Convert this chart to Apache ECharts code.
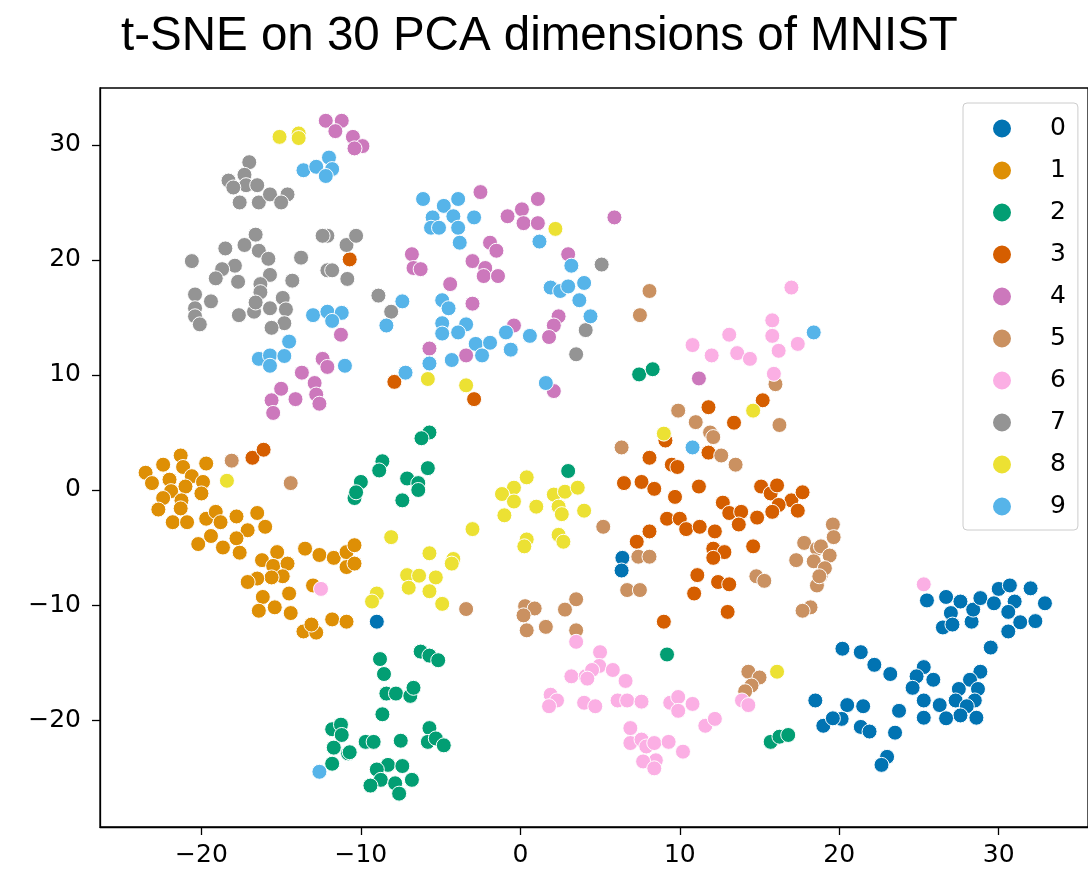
<!DOCTYPE html>
<html>
<head>
<meta charset="utf-8">
<title>t-SNE on 30 PCA dimensions of MNIST</title>
<script src="https://cdn.jsdelivr.net/npm/echarts@6/dist/echarts.min.js"></script>
<style>
  html, body { margin: 0; padding: 0; background: #fff; }
  #chart { width: 1088px; height: 874px; }
</style>
</head>
<body>
<div id="chart"></div>
<script>
// Embedded 2-D coordinates, one array per digit class
const digit0 = [[-9.0,-11.45],[6.4,-5.9],[6.35,-7.0],[18.5,-18.3],[19.0,-20.5],[25.5,-9.6],[26.7,-9.3],[27.6,-9.7],[27.0,-10.7],[26.5,-11.95],[27.1,-11.7],[28.3,-11.45],[28.4,-10.4],[28.85,-9.4],[29.7,-9.85],[30.0,-8.6],[30.7,-8.3],[31.0,-9.7],[30.6,-10.6],[31.35,-11.5],[30.6,-12.3],[32.0,-8.55],[32.9,-9.85],[32.3,-11.4],[29.5,-13.7],[20.2,-13.8],[21.35,-14.1],[22.2,-15.2],[23.2,-16.0],[25.3,-15.4],[24.85,-16.2],[25.9,-16.5],[24.6,-17.2],[25.3,-18.3],[26.3,-18.7],[28.85,-15.8],[28.2,-16.5],[27.5,-17.3],[28.7,-17.3],[27.3,-18.3],[28.5,-18.3],[28.0,-18.8],[27.6,-19.6],[28.6,-19.8],[26.7,-19.85],[25.3,-19.8],[23.75,-19.2],[23.5,-21.1],[23.0,-23.2],[22.65,-23.9],[20.5,-18.7],[21.5,-18.8],[20.15,-19.9],[19.6,-19.85],[21.35,-20.6],[21.9,-21.0]];
const digit1 = [[-21.3,3.0],[-21.15,2.0],[-22.4,2.2],[-23.5,1.5],[-19.7,2.3],[-22.0,0.9],[-23.1,0.6],[-20.6,1.2],[-19.9,0.7],[-21.0,0.3],[-21.9,-0.1],[-20.0,-0.3],[-22.4,-0.7],[-21.25,-0.9],[-22.7,-1.7],[-21.3,-1.6],[-21.8,-2.8],[-20.9,-2.8],[-19.7,-2.5],[-19.1,-1.9],[-18.8,-2.8],[-17.8,-2.3],[-16.5,-2.0],[-16.0,-3.2],[-17.1,-3.5],[-17.8,-4.2],[-19.4,-4.0],[-20.2,-4.7],[-18.65,-5.0],[-17.6,-5.45],[-13.5,-5.1],[-12.6,-5.65],[-11.7,-5.9],[-10.9,-5.4],[-15.25,-5.4],[-16.2,-6.1],[-15.5,-6.6],[-14.6,-6.4],[-14.9,-7.5],[-15.6,-7.6],[-16.5,-7.7],[-17.1,-8.0],[-13.0,-8.3],[-10.9,-6.7],[-16.15,-9.3],[-14.5,-9.0],[-15.4,-10.2],[-16.4,-10.5],[-14.4,-10.7],[-13.6,-12.3],[-12.8,-12.4],[-13.1,-11.7],[-11.8,-11.25],[-10.9,-11.45],[-10.4,-4.8],[-10.4,-6.4]];
const digit2 = [[-10.4,-0.7],[-10.0,0.7],[-10.3,-0.2],[-8.65,2.5],[-8.85,1.7],[-5.8,1.9],[-7.1,1.0],[-6.4,0.6],[-6.4,0.0],[-7.4,-0.9],[-5.7,5.0],[-6.2,4.5],[3.0,1.65],[7.45,10.05],[8.3,10.5],[9.2,-14.3],[15.7,-21.9],[16.25,-21.45],[16.8,-21.3],[-6.25,-14.05],[-5.7,-14.4],[-5.15,-14.8],[-8.8,-14.7],[-8.55,-16.0],[-8.4,-17.7],[-7.8,-17.7],[-6.9,-17.9],[-6.7,-17.2],[-8.65,-19.5],[-11.8,-20.8],[-11.25,-20.4],[-11.2,-21.3],[-11.7,-22.4],[-10.8,-22.9],[-11.8,-23.8],[-10.7,-22.8],[-9.7,-21.9],[-9.2,-21.9],[-7.5,-21.8],[-5.7,-20.7],[-5.8,-21.9],[-5.3,-21.6],[-4.8,-22.2],[-8.3,-23.9],[-9.0,-24.3],[-7.4,-24.0],[-8.75,-25.2],[-9.4,-25.7],[-7.85,-25.5],[-6.8,-25.2],[-7.6,-26.4]];
const digit3 = [[-10.7,20.05],[-16.8,2.8],[-16.1,3.5],[-7.9,9.4],[-2.9,7.9],[15.2,7.8],[11.8,7.2],[13.4,5.85],[11.8,3.25],[9.1,4.3],[8.1,2.8],[9.5,2.2],[9.85,2.0],[6.5,0.6],[7.6,0.7],[8.4,0.1],[9.7,-0.6],[11.2,0.3],[12.7,-1.1],[13.1,-2.0],[13.85,-1.9],[13.7,-3.0],[14.85,-2.4],[15.1,0.3],[15.7,-0.3],[16.1,0.4],[17.0,-0.9],[17.7,-0.2],[16.2,-1.3],[15.8,-1.9],[17.4,-1.8],[9.2,-2.5],[10.0,-2.5],[10.4,-3.4],[11.25,-3.2],[12.2,-3.6],[8.1,-3.6],[7.3,-4.5],[12.1,-5.1],[12.8,-5.4],[12.1,-5.9],[14.6,-4.9],[11.1,-7.4],[12.4,-8.0],[13.1,-8.2],[10.9,-9.0],[13.0,-10.6],[9.0,-11.45]];
const digit4 = [[-12.2,32.1],[-11.2,32.1],[-11.6,31.2],[-10.5,30.7],[-9.9,29.9],[-10.4,29.7],[-2.5,25.9],[-0.8,23.8],[0.1,24.4],[1.1,25.3],[0.2,23.2],[1.1,23.2],[-1.9,21.5],[-1.5,20.8],[-3.0,19.9],[-2.2,19.3],[-2.3,18.6],[-1.4,18.6],[-6.8,20.5],[-6.7,19.3],[-6.25,19.2],[-4.4,17.9],[-3.0,16.2],[3.0,20.5],[-0.4,14.3],[2.4,15.1],[2.1,14.3],[5.9,23.7],[-11.25,13.5],[-12.4,11.4],[-12.1,10.7],[-13.7,10.2],[-12.9,9.3],[-12.8,8.3],[-12.6,7.5],[-15.0,8.8],[-14.1,7.9],[-15.6,7.8],[-15.5,6.7],[-5.7,12.3],[-3.4,11.7],[1.8,13.3],[2.1,8.6],[11.2,9.7]];
const digit5 = [[8.1,17.3],[7.5,15.2],[16.0,9.2],[9.9,6.9],[11.0,5.9],[11.9,5.0],[12.1,4.6],[12.6,3.0],[13.5,2.2],[16.25,5.65],[6.35,3.7],[5.2,-3.2],[7.4,-5.8],[8.1,-5.8],[6.7,-8.7],[7.5,-8.7],[17.8,-4.6],[18.6,-5.1],[17.3,-6.1],[18.4,-6.2],[18.85,-7.4],[14.8,-7.5],[15.3,-7.9],[18.6,-8.3],[18.2,-10.2],[17.7,-10.5],[14.3,-15.8],[15.0,-16.3],[14.5,-17.0],[14.1,-17.5],[19.6,-3.0],[19.65,-4.1],[18.85,-4.9],[19.4,-5.7],[19.1,-6.8],[18.75,-7.5],[-18.1,2.55],[-14.4,0.6],[-3.4,-10.35],[0.3,-10.1],[0.9,-10.3],[0.2,-10.9],[0.4,-12.2],[1.6,-11.9],[2.8,-10.4],[3.5,-9.5],[3.5,-12.2]];
const digit6 = [[-12.5,-8.6],[17.0,17.6],[15.8,14.75],[15.8,13.4],[13.1,13.5],[10.8,12.6],[12.0,11.7],[13.6,11.9],[14.4,11.4],[16.2,12.1],[17.4,12.7],[15.9,10.1],[25.3,-8.2],[3.5,-13.2],[3.2,-16.2],[4.1,-16.2],[1.9,-17.8],[2.3,-18.3],[1.8,-18.8],[4.0,-18.5],[5.0,-14.1],[4.95,-15.3],[4.5,-15.65],[4.2,-16.4],[5.8,-15.65],[6.6,-16.6],[4.7,-18.8],[6.1,-18.3],[6.7,-18.3],[7.6,-18.4],[9.4,-18.5],[9.9,-18.0],[10.8,-18.6],[9.9,-19.2],[11.6,-20.5],[12.2,-19.9],[13.9,-18.3],[14.3,-18.7],[6.9,-20.7],[6.9,-22.0],[7.6,-21.7],[7.9,-22.3],[8.4,-22.0],[9.3,-21.9],[10.2,-22.75],[8.5,-23.5],[7.7,-23.6],[8.4,-24.2]];
const digit7 = [[-17.0,28.5],[-18.3,26.9],[-17.3,27.4],[-17.2,26.5],[-16.5,26.5],[-18.0,26.3],[-17.6,25.0],[-16.4,25.0],[-15.7,25.7],[-14.6,25.7],[-15.0,25.0],[-16.6,22.2],[-17.3,21.3],[-16.4,20.8],[-15.8,20.1],[-18.5,21.0],[-17.9,19.5],[-18.7,19.2],[-19.1,18.4],[-17.7,18.1],[-20.6,19.9],[-15.7,18.7],[-16.3,17.9],[-16.3,17.2],[-14.3,18.2],[-13.75,20.2],[-20.4,17.0],[-19.4,16.4],[-20.4,15.8],[-20.4,15.1],[-20.1,14.4],[-17.65,15.2],[-16.7,15.5],[-16.6,16.3],[-15.7,15.8],[-14.9,16.7],[-14.7,15.7],[-14.8,14.5],[-15.6,14.1],[-12.1,22.1],[-12.4,22.1],[-12.1,19.1],[-11.8,19.1],[-10.9,21.3],[-10.3,22.1],[-10.85,18.35],[-8.9,16.9],[-8.1,15.5],[5.1,19.6],[3.5,11.8],[4.1,13.9]];
const digit8 = [[-15.1,30.7],[-13.9,31.0],[-13.9,30.6],[2.2,22.7],[-18.4,0.8],[-5.8,9.65],[-3.4,9.1],[9.0,4.9],[14.6,6.9],[0.4,1.1],[-0.4,0.2],[-1.15,-0.35],[-0.4,-1.0],[-1.0,-2.2],[1.0,-1.45],[2.1,-0.4],[2.8,-0.15],[3.6,0.2],[2.4,-1.45],[2.6,-2.1],[4.0,-1.8],[0.4,-4.3],[0.25,-4.9],[2.4,-3.9],[2.7,-4.5],[-3.0,-3.4],[-8.1,-4.1],[-5.7,-5.5],[-4.2,-6.0],[-4.3,-6.4],[-7.1,-7.4],[-6.35,-7.45],[-5.3,-7.6],[-9.0,-9.0],[-9.3,-9.7],[-7.0,-8.5],[-5.7,-8.8],[-4.9,-9.9],[16.1,-15.8]];
const digit9 = [[-13.6,27.8],[-12.8,28.1],[-12.0,28.9],[-11.8,27.9],[-12.2,27.3],[-13.0,15.2],[-12.1,15.5],[-11.2,15.4],[-11.8,14.7],[-6.1,25.3],[-4.8,24.7],[-3.9,25.3],[-4.2,23.8],[-2.9,23.7],[-5.5,23.7],[-5.6,22.8],[-5.1,22.8],[-3.9,22.8],[-3.8,21.5],[1.2,21.6],[3.2,19.5],[1.9,17.6],[2.5,17.3],[3.0,17.7],[4.0,18.0],[3.7,16.5],[4.4,15.1],[-7.4,16.4],[-8.4,14.3],[-4.9,16.5],[-4.5,15.8],[-4.9,14.5],[-3.4,14.4],[-3.9,13.7],[-4.9,13.6],[-0.9,13.7],[0.6,13.4],[18.4,13.7],[-14.5,12.9],[-16.4,11.4],[-15.7,11.7],[-15.7,10.8],[-14.8,11.65],[-11.0,10.8],[-5.7,11.0],[-4.3,11.3],[-2.8,12.7],[-1.9,12.8],[-2.4,11.7],[-0.6,12.2],[-7.2,10.2],[1.6,9.3],[10.8,3.7],[-12.6,-24.5]];

const classNames = ['0', '1', '2', '3', '4', '5', '6', '7', '8', '9'];
const classData = [digit0, digit1, digit2, digit3, digit4, digit5, digit6, digit7, digit8, digit9];
const palette = ['#0173b2', '#de8f05', '#029e73', '#d55e00', '#cc78bc',
                 '#ca9161', '#fbafe4', '#949494', '#ece133', '#56b4e9'];
const xTicks = [-20, -10, 0, 10, 20, 30];
const yTicks = [-20, -10, 0, 10, 20, 30];

const tickFmt = v => (v < 0 ? '\u2212' + Math.abs(v) : String(v));
const tickFont = { fontFamily: 'DejaVu Sans', fontSize: 25, color: '#000' };

const chart = echarts.init(document.getElementById('chart'), null, { renderer: 'canvas' });
chart.setOption({
  animation: false,
  backgroundColor: '#fff',
  title: {
    text: 't-SNE on 30 PCA dimensions of MNIST',
    left: 116,
    top: 8,
    textStyle: { fontFamily: 'Liberation Sans', fontSize: 47.5, fontWeight: 'normal', color: '#000' }
  },
  grid: {
    left: 100, top: 88, width: 991, height: 739,
    show: true, borderColor: '#000', borderWidth: 1.3, backgroundColor: '#fff'
  },
  legend: {
    orient: 'vertical',
    left: 963, top: 103,
    padding: [13, 12, 11, 28],
    itemWidth: 20, itemHeight: 20, itemGap: 17,
    icon: 'circle',
    backgroundColor: '#fff',
    borderColor: '#cccccc', borderWidth: 1, borderRadius: 4,
    textStyle: { fontFamily: 'DejaVu Sans', fontSize: 25, color: '#000', padding: [0, 0, 0, 33] },
    data: classNames
  },
  xAxis: {
    type: 'value', min: -26.36, max: 35.6,
    axisLine: { show: true, onZero: false, lineStyle: { color: '#000', width: 1.3 } },
    axisTick: { show: true, length: 8, customValues: xTicks, lineStyle: { color: '#000', width: 1.3 } },
    axisLabel: Object.assign({ customValues: xTicks, margin: 16, formatter: tickFmt }, tickFont),
    splitLine: { show: false }
  },
  yAxis: {
    type: 'value', min: -29.3, max: 34.95,
    axisLine: { show: true, onZero: false, lineStyle: { color: '#000', width: 1.3 } },
    axisTick: { show: true, length: 8, customValues: yTicks, lineStyle: { color: '#000', width: 1.3 } },
    axisLabel: Object.assign({ customValues: yTicks, margin: 19, formatter: tickFmt }, tickFont),
    splitLine: { show: false }
  },
  series: classData.map((pts, i) => ({
    name: classNames[i],
    type: 'scatter',
    data: pts,
    symbol: 'circle',
    symbolSize: 15,
    itemStyle: { color: palette[i], borderColor: '#fff', borderWidth: 1, opacity: 1 },
    emphasis: { disabled: true }
  }))
});
</script>
</body>
</html>
